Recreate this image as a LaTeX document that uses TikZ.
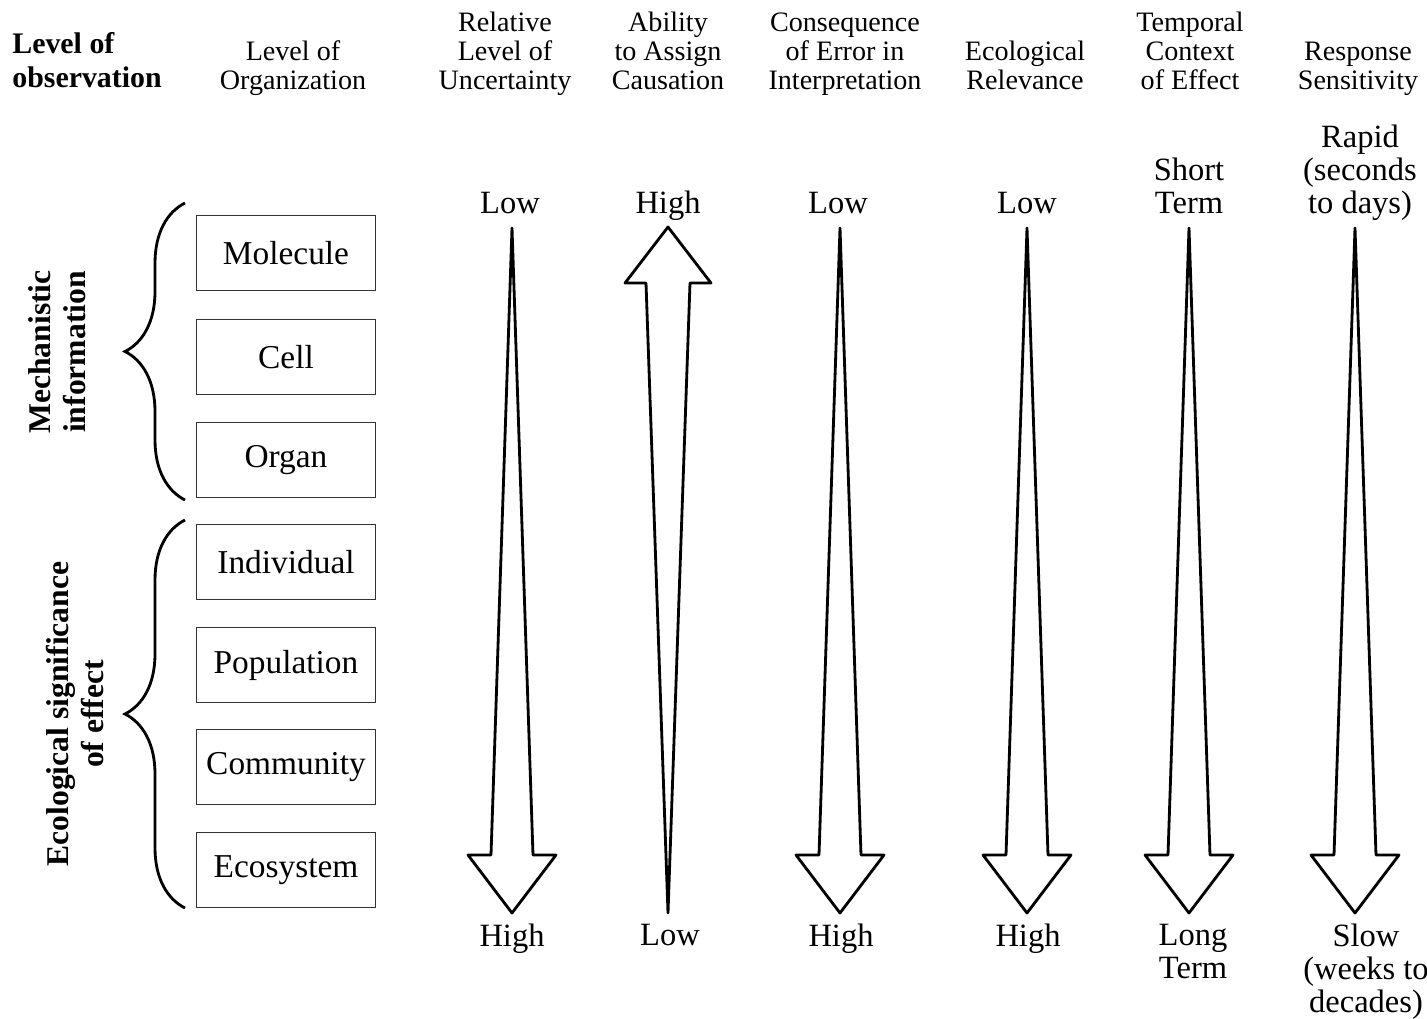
\documentclass[tikz,border=0pt]{standalone}
\usepackage{fontspec}
\setmainfont{Liberation Serif}
\usetikzlibrary{calc,decorations.pathreplacing}

\begin{document}
\begin{tikzpicture}[x=0.02cm, y=-0.02cm,
    head/.style={font=\fontsize{16}{16.5}\selectfont, align=center, anchor=south, inner sep=0pt, text depth=0pt},
    toplab/.style={font=\fontsize{18.5}{18.7}\selectfont, align=center, anchor=south, inner sep=0pt, text depth=0pt},
    botlab/.style={font=\fontsize{18.5}{18.7}\selectfont, align=center, anchor=north, inner sep=0pt},
    levelbox/.style={draw=black!80, line width=1.1pt, minimum width=3.58cm, minimum height=1.5cm, inner sep=0pt, font=\fontsize{19}{19}\selectfont},
    sidelab/.style={font=\bfseries\fontsize{18}{20}\selectfont, align=center, rotate=90, inner sep=0pt},
    hollow/.style={draw=black, fill=white, line width=1.6pt, line join=round},
    bracket/.style={decorate, decoration={brace, amplitude=1.2cm}, line width=1.6pt}]

    \useasboundingbox (0,0) rectangle (1427,1018);

    % headings
    \node[font=\bfseries\fontsize{17}{19.3}\selectfont, align=left, anchor=south west, inner sep=0pt, text depth=0pt] (obs) at (12,88) {Level of\\observation};
    \node[head] (horg) at (293,90) {Level of\\Organization};
    \node[head] (hunc) at (505,90) {Relative\\Level of\\Uncertainty};
    \node[head] (hcaus) at (668,90) {Ability\\to Assign\\Causation};
    \node[head] (hcons) at (845,90) {Consequence\\of Error in\\Interpretation};
    \node[head] (heco) at (1025,90) {Ecological\\Relevance};
    \node[head] (htemp) at (1190,90) {Temporal\\Context\\of Effect};
    \node[head] (hresp) at (1358,90) {Response\\Sensitivity};

    % levels of organization
    \node[levelbox] (mol) at (286,253) {Molecule};
    \node[levelbox] (cell) at (286,357) {Cell};
    \node[levelbox] (organ) at (286,460) {Organ};
    \node[levelbox] (indiv) at (286,562) {Individual};
    \node[levelbox] (popul) at (286,665) {Population};
    \node[levelbox] (commun) at (286,767) {Community};
    \node[levelbox] (ecosys) at (286,870) {Ecosystem};

    % braces and their labels
    \coordinate (b1s) at (185,500);
    \coordinate (b1e) at (185,203);
    \coordinate (b2s) at (185,908);
    \coordinate (b2e) at (185,520);
    \draw[bracket] (b1s) -- (b1e);
    \draw[bracket] (b2s) -- (b2e);
    \node[sidelab] (mech) at (57,352) {Mechanistic\\information};
    \node[sidelab] (ecosig) at (75,714) {Ecological significance\\of effect};

    % end labels
    \node[toplab] (unc-lo) at (510,214) {Low};
    \node[botlab] (unc-hi) at (512,924) {High};
    \node[toplab] (caus-hi) at (668,214) {High};
    \node[botlab] (caus-lo) at (670,924) {Low};
    \node[toplab] (cons-lo) at (838,214) {Low};
    \node[botlab] (cons-hi) at (841,924) {High};
    \node[toplab] (eco-lo) at (1027,214) {Low};
    \node[botlab] (eco-hi) at (1028,924) {High};
    \node[toplab] (temp-sh) at (1189,214) {Short\\Term};
    \node[botlab] (temp-lg) at (1193,924) {Long\\Term};
    \node[toplab] (resp-fast) at (1360,214) {Rapid\\(seconds\\to days)};
    \node[botlab] (resp-slow) at (1366,924) {Slow\\(weeks to\\decades)};

    % arrows
    \coordinate (unc-t) at (512,228);   \coordinate (unc-b) at (512,913);
    \coordinate (caus-t) at (668,227);  \coordinate (caus-b) at (668,913);
    \coordinate (cons-t) at (840,228);  \coordinate (cons-b) at (840,913);
    \coordinate (eco-t) at (1027,228);  \coordinate (eco-b) at (1027,913);
    \coordinate (temp-t) at (1189,228); \coordinate (temp-b) at (1189,913);
    \coordinate (resp-t) at (1355,228); \coordinate (resp-b) at (1355,913);

    \foreach \c in {unc,cons,eco,temp,resp}
        \draw[hollow] (\c-t) -- ($(\c-b)+(-21,-58)$) -- ($(\c-b)+(-44,-58)$) -- (\c-b)
            -- ($(\c-b)+(44,-58)$) -- ($(\c-b)+(21,-58)$) -- cycle;
    \draw[hollow] (caus-b) -- ($(caus-t)+(22,56)$) -- ($(caus-t)+(43,56)$) -- (caus-t)
        -- ($(caus-t)+(-43,56)$) -- ($(caus-t)+(-22,56)$) -- cycle;

\end{tikzpicture}
\end{document}
